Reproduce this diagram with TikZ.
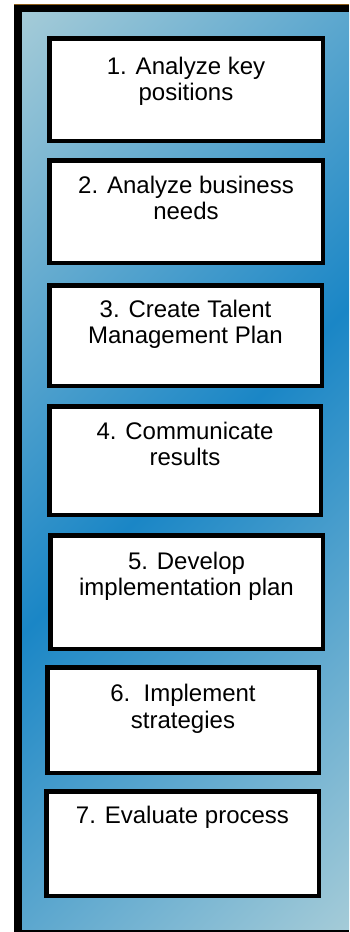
\documentclass[tikz,border=0pt]{standalone}
\usepackage{fontspec}
\setmainfont{Liberation Sans}
\definecolor{lightb}{RGB}{166,204,216}
\definecolor{darkb}{RGB}{26,134,198}
\definecolor{framebrown}{RGB}{140,92,24}
\pgfdeclarehorizontalshading{diagblue}{100bp}{color(0bp)=(lightb); color(14bp)=(lightb); color(50bp)=(darkb); color(86bp)=(lightb); color(100bp)=(lightb)}
\tikzset{
  stepbox/.style={draw=black, fill=white, line width=4.5pt, rectangle, inner sep=0pt},
  steptext/.style={anchor=north, inner sep=0pt, align=center, font=\fontsize{24}{26.7}\selectfont}
}
\begin{document}
\begin{tikzpicture}[x=1pt,y=-1pt]
\useasboundingbox (0,0) rectangle (349,932);
% frame
\fill[black] (14,4) rectangle (349,932);
\draw[framebrown, line width=1pt] (14,4.5) -- (349,4.5);
\fill[shading=diagblue, shading angle=-45] (22,12) rectangle (349,929);
% boxes: (L,T,R,B) outer edges
\node[stepbox, minimum width=273.5pt, minimum height=102.5pt] (b1) at (186,89.5) {};
\node[stepbox, minimum width=273.5pt, minimum height=102.5pt] (b2) at (186,211.5) {};
\node[stepbox, minimum width=272.5pt, minimum height=100.5pt] (b3) at (185.5,335.5) {};
\node[stepbox, minimum width=271.5pt, minimum height=108.5pt] (b4) at (185,460.5) {};
\node[stepbox, minimum width=272.5pt, minimum height=113.5pt] (b5) at (186.5,592) {};
\node[stepbox, minimum width=271.5pt, minimum height=105.5pt] (b6) at (183,720) {};
\node[stepbox, minimum width=272.5pt, minimum height=104.5pt] (b7) at (182.5,843.5) {};
% labels
\node[steptext] (t1) at (186,56.7) {1. Analyze key\\positions};
\node[steptext] (t2) at (186,175.7) {2. Analyze business\\needs};
\node[steptext] (t3) at (185.5,299.7) {3. Create Talent\\Management Plan};
\node[steptext] (t4) at (185,421.7) {4. Communicate\\results};
\node[steptext] (t5) at (186.5,551.7) {5. Develop\\implementation plan};
\node[steptext] (t6) at (183,683.7) {6.\ \ Implement\\strategies};
\node[steptext] (t7) at (182.5,805.7) {7. Evaluate process};
\end{tikzpicture}
\end{document}
